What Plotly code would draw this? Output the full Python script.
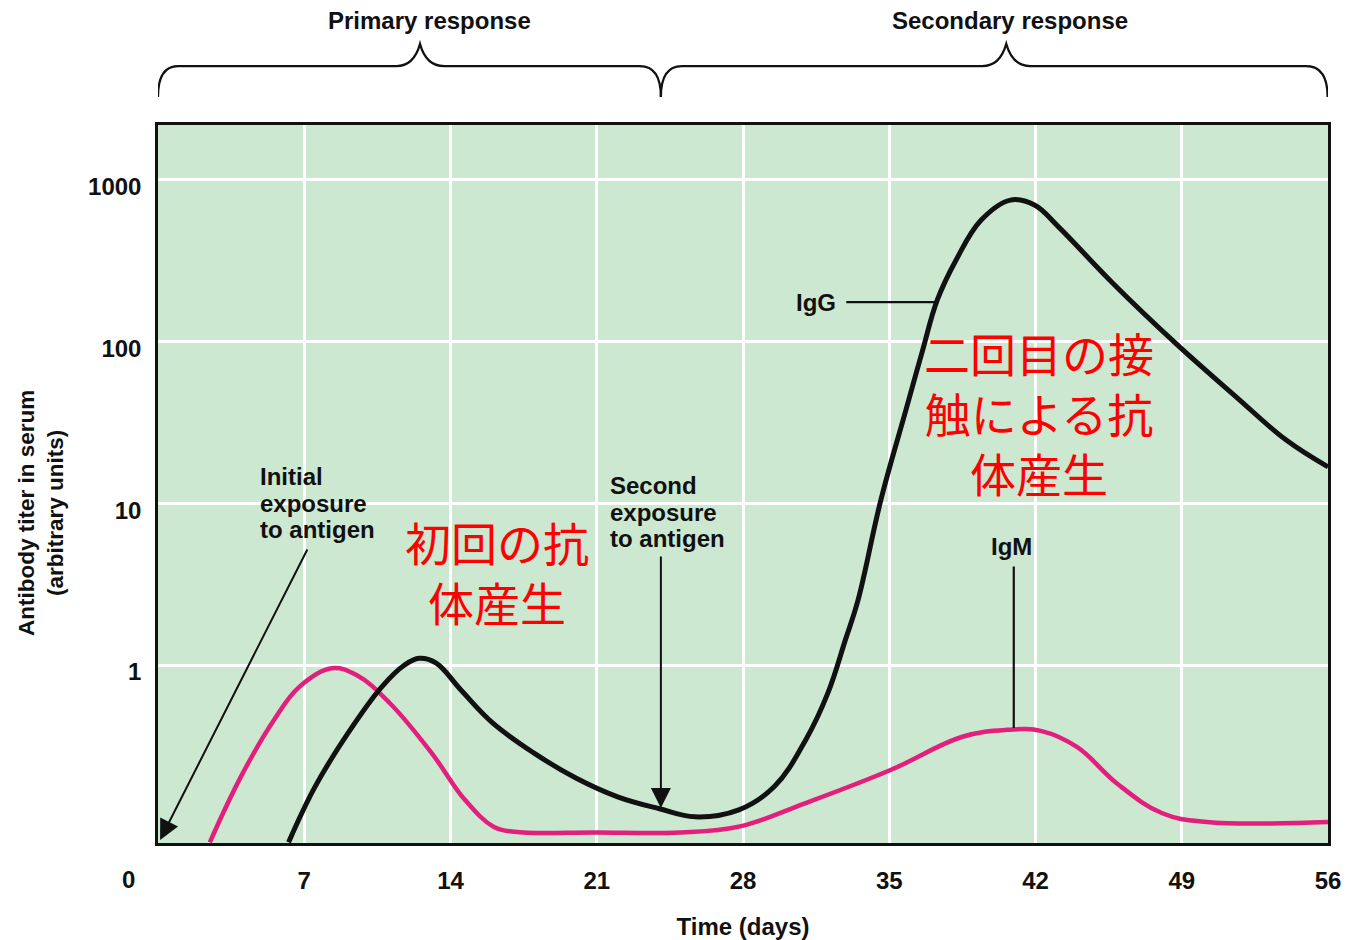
import numpy as np
import plotly.graph_objects as go

# ---- data ----
igg_days = [6.25, 7.5, 9.1, 10.7, 11.8, 12.5, 13.3, 14.5, 16.0, 18.0, 20.0, 22.0, 24.0,
            25.7, 27.8, 29.5, 31.0, 32.06, 32.9, 33.5, 34.6, 35.8, 36.6, 37.3,
            38.2, 39.4, 40.8, 41.95, 43.1, 45.7, 48.7, 51.6, 54.0, 56.0]
igg_titer = [0.080, 0.175, 0.38, 0.73, 1.0, 1.10, 1.03, 0.70, 0.44, 0.285, 0.20, 0.153, 0.129,
             0.115, 0.127, 0.177, 0.344, 0.67, 1.43, 2.5, 10.5, 37.8, 88.7, 181,
             320, 565, 751, 700, 513, 230, 98, 45.6, 24.6, 16.8]

igm_days = [2.48, 3.97, 5.55, 6.75, 8.3, 9.5, 11.1, 13.1, 14.7, 16.06, 17.05, 21.0, 25.0,
            27.8, 31.0, 35.06, 38.5, 40.6, 42.3, 44.0, 45.9, 48.07, 50.2, 56.0]
igm_titer = [0.080, 0.204, 0.457, 0.73, 0.955, 0.867, 0.58, 0.285, 0.146, 0.10, 0.093, 0.092, 0.092,
             0.10, 0.14, 0.224, 0.36, 0.397, 0.39, 0.31, 0.185, 0.121, 0.107, 0.107]

x_ticks = [7, 14, 21, 28, 35, 42, 49, 56]
y_ticks = [1, 10, 100, 1000]
y_tick_labels = ["1", "10", "100", "1000"]

primary_label = "Primary response"
secondary_label = "Secondary response"
initial_lines = ["Initial", "exposure", "to antigen"]
second_lines = ["Second", "exposure", "to antigen"]
jp_primary_lines = ["初回の抗", "体産生"]
jp_secondary_lines = ["二回目の接", "触による抗", "体産生"]

BLACK = "#111111"
PINK = "#e21f7c"
RED = "#ff0000"
BG = "#cde8d0"
FONT = "Liberation Sans, Arial, sans-serif"
JPFONT = "Noto Sans CJK JP"


def sized(lines, px):
    return "<br>".join(f"<span style='font-size:{px}px'>{s}</span>" for s in lines)


fig = go.Figure()
fig.add_trace(go.Scatter(x=igm_days, y=igm_titer, mode="lines", name="IgM",
                         line=dict(color=PINK, width=4.5, shape="spline", smoothing=1.1),
                         showlegend=False))
fig.add_trace(go.Scatter(x=igg_days, y=igg_titer, mode="lines", name="IgG",
                         line=dict(color=BLACK, width=5, shape="spline", smoothing=1.1),
                         showlegend=False))

bold = dict(family=FONT, size=24, color=BLACK, weight="bold")

fig.update_layout(
    width=1346, height=940,
    margin=dict(l=158, r=18, t=125, b=97),
    paper_bgcolor="white", plot_bgcolor=BG,
    font=dict(family=FONT, color=BLACK),
    xaxis=dict(range=[0, 56], tickvals=x_ticks, ticktext=[str(v) for v in x_ticks],
               automargin=False, ticklabeloverflow="allow",
               showgrid=True, gridcolor="white", gridwidth=2.5, zeroline=False,
               showline=True, linecolor=BLACK, linewidth=2.5, mirror=True,
               ticks="", ticklabelstandoff=14,
               tickfont=dict(family=FONT, size=24, color=BLACK, weight="bold"),
               title=dict(text="Time (days)", standoff=31,
                          font=dict(family=FONT, size=24, color=BLACK, weight="bold"))),
    yaxis=dict(type="log", range=[-1.101, 3.34], tickvals=y_ticks, ticktext=y_tick_labels,
               automargin=False, ticklabeloverflow="allow",
               showgrid=True, gridcolor="white", gridwidth=2.5, zeroline=False,
               showline=True, linecolor=BLACK, linewidth=2.5, mirror=True,
               ticks="", ticklabelstandoff=9, ticklabelshift=7,
               tickfont=dict(family=FONT, size=24, color=BLACK, weight="bold")),
)

# braces above the plot (x in days, y in paper units)
yb_end, yb_line, yb_tip = 1.039, 1.082, 1.113
brace1 = (f"M 0,{yb_end} Q 0,{yb_line} 0.96,{yb_line} L 11.4,{yb_line} "
          f"Q 12.25,{yb_line} 12.54,{yb_tip} Q 12.83,{yb_line} 13.7,{yb_line} "
          f"L 23.06,{yb_line} Q 24.07,{yb_line} 24.07,{yb_end}")
brace2 = (f"M 24.07,{yb_end} Q 24.07,{yb_line} 25.07,{yb_line} L 39.45,{yb_line} "
          f"Q 40.3,{yb_line} 40.6,{yb_tip} Q 40.9,{yb_line} 41.75,{yb_line} "
          f"L 54.95,{yb_line} Q 55.98,{yb_line} 55.98,{yb_end}")
for p in (brace1, brace2):
    fig.add_shape(type="path", path=p, xref="x", yref="paper",
                  line=dict(color=BLACK, width=2.2))

ann = []
ann.append(dict(text=primary_label, x=13.0, y=1.145, xref="x", yref="paper",
                xanchor="center", yanchor="middle", showarrow=False, font=bold))
ann.append(dict(text=secondary_label, x=40.77, y=1.145, xref="x", yref="paper",
                xanchor="center", yanchor="middle", showarrow=False, font=bold))
# y axis title
ann.append(dict(text="Antibody titer in serum<br>(arbitrary units)", textangle=-90,
                x=0, xref="paper", xshift=-117, y=0.4596, yref="paper",
                xanchor="center", yanchor="middle", showarrow=False,
                font=dict(family=FONT, size=22.5, color=BLACK, weight="bold")))
# the "0" on the time axis
ann.append(dict(text="0", x=0, xref="x", xshift=-30, y=-0.0515, yref="paper",
                xanchor="center", yanchor="middle", showarrow=False,
                font=dict(family=FONT, size=24, color=BLACK, weight="bold")))

# exposure labels and arrows
small_bold = dict(family=FONT, size=20.4, color=BLACK, weight="bold")
ann.append(dict(text=sized(initial_lines, 24), x=4.78, y=1.0, xref="x", yref="y",
                xanchor="left", yanchor="middle", align="left", showarrow=False, font=small_bold))
ann.append(dict(text="", x=0.1, y=-1.082, xref="x", yref="y", ax=148, ay=-292,
                showarrow=True, arrowhead=2, arrowsize=2, arrowwidth=2, arrowcolor=BLACK))
ann.append(dict(text=sized(second_lines, 24), x=21.53, y=0.946, xref="x", yref="y",
                xanchor="left", yanchor="middle", align="left", showarrow=False, font=small_bold))
ann.append(dict(text="", x=24.07, y=-0.884, xref="x", yref="y", ax=0, ay=-253,
                showarrow=True, arrowhead=2, arrowsize=2, arrowwidth=2, arrowcolor=BLACK))

# IgG / IgM labels with leader lines
ann.append(dict(text="IgG", x=31.48, y=2.245, xref="x", yref="y", xanchor="center",
                yanchor="middle", showarrow=False, font=bold))
ann.append(dict(text="", x=37.18, y=2.245, xref="x", yref="y", ax=-90, ay=0,
                showarrow=True, arrowhead=0, arrowwidth=2.2, arrowcolor=BLACK, standoff=0))
ann.append(dict(text="IgM", x=40.86, y=0.736, xref="x", yref="y", xanchor="center",
                yanchor="middle", showarrow=False, font=bold))
ann.append(dict(text="", x=40.96, y=-0.39, xref="x", yref="y", ax=0, ay=-163,
                showarrow=True, arrowhead=0, arrowwidth=2.2, arrowcolor=BLACK, standoff=0))

# Japanese annotations
jp_font = dict(family=JPFONT, size=46, color=RED)
ann.append(dict(text="<br>".join(jp_primary_lines), x=16.22, y=0.584, xref="x", yref="y",
                xanchor="center", yanchor="middle", align="center", showarrow=False, font=jp_font))
ann.append(dict(text="<br>".join(jp_secondary_lines), x=42.15, y=1.565, xref="x", yref="y",
                xanchor="center", yanchor="middle", align="center", showarrow=False, font=jp_font))

fig.update_layout(annotations=ann)
fig.write_html("out.html", config={"displayModeBar": False},
               post_script="document.body.style.margin='0px';")
